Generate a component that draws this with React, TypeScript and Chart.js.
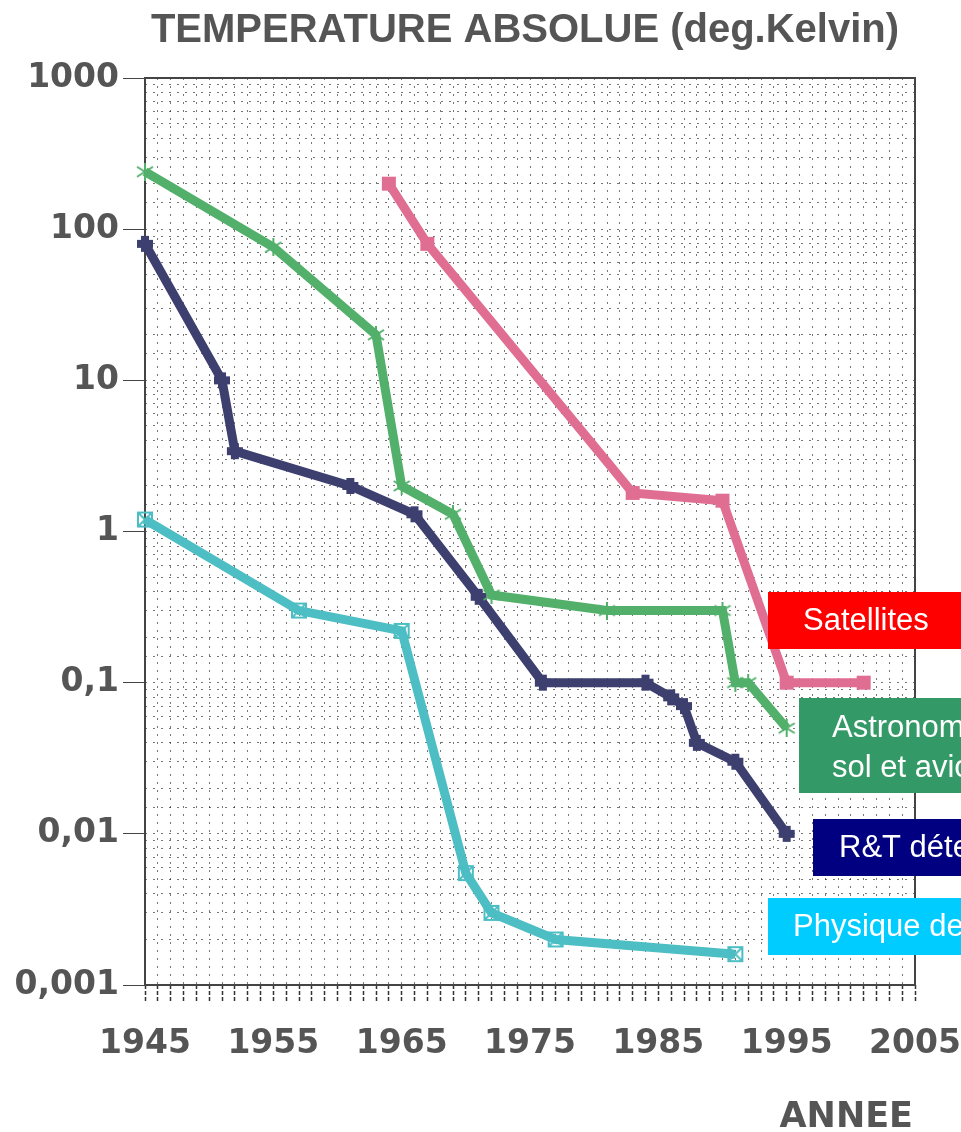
import React, { useEffect, useRef } from 'react';
import { Chart, registerables } from 'chart.js';
Chart.register(...registerables);

// ---- data ----
const xTickYears = [1945, 1955, 1965, 1975, 1985, 1995, 2005];
const yTickLabels = ['1000', '100', '10', '1', '0,1', '0,01', '0,001'];

const satYears = [1964, 1967, 1983, 1990, 1995, 2001];
const satValues = [200, 80, 1.8, 1.6, 0.1, 0.1];

const astroYears = [1945, 1955, 1963, 1965, 1969, 1972, 1981, 1990, 1991, 1992, 1995];
const astroValues = [240, 76, 20, 2, 1.3, 0.38, 0.3, 0.3, 0.1, 0.1, 0.05];

const rtYears = [1945, 1951, 1952, 1961, 1966, 1971, 1976, 1984, 1986, 1987, 1988, 1991, 1995];
const rtValues = [80, 10, 3.4, 2, 1.3, 0.37, 0.1, 0.1, 0.08, 0.07, 0.04, 0.03, 0.01];

const physYears = [1945, 1957, 1965, 1970, 1972, 1977, 1991];
const physValues = [1.2, 0.3, 0.22, 0.0055, 0.003, 0.002, 0.0016];

const legendItems = [
  { lines: ['Satellites'], color: '#ff0000' },
  { lines: ['Astronomie', 'sol et avion'], color: '#339966' },
  { lines: ['R&T détecteurs'], color: '#000080' },
  { lines: ['Physique des particules'], color: '#00ccff' },
];

const C_SAT = '#e06e92';
const C_ASTRO = '#52b06b';
const C_RT = '#3d3f6f';
const C_PHYS = '#4cbec4';

function marker(kind: string, color: string) {
  const c = document.createElement('canvas');
  c.width = 18; c.height = 18;
  const g = c.getContext('2d')!;
  g.strokeStyle = color; g.fillStyle = color;
  if (kind === 'boxx') {
    g.lineWidth = 2;
    g.strokeRect(2, 2, 14, 14);
    g.beginPath(); g.moveTo(2, 2); g.lineTo(16, 16); g.moveTo(16, 2); g.lineTo(2, 16); g.stroke();
  } else if (kind === 'plus') {
    g.fillRect(1, 5, 16, 8);
    g.fillRect(5, 1, 8, 16);
  } else if (kind === 'sq') {
    g.fillRect(2, 2, 14, 14);
  } else if (kind === 'star') {
    g.lineWidth = 2;
    g.beginPath();
    g.moveTo(9, 0); g.lineTo(9, 18);
    g.moveTo(1, 4); g.lineTo(17, 14);
    g.moveTo(17, 4); g.lineTo(1, 14);
    g.stroke();
  }
  return c;
}

const isMajor = (v: number) => {
  const l = Math.log10(v);
  return Math.abs(l - Math.round(l)) < 1e-6;
};

export default function App() {
  const ref = useRef<HTMLCanvasElement>(null);
  useEffect(() => {
    const toPts = (xs: number[], ys: number[]) => xs.map((x, i) => ({ x, y: ys[i] }));
    const mk = (label: string, xs: number[], ys: number[], color: string, kind: string) => ({
      label,
      data: toPts(xs, ys),
      borderColor: color,
      backgroundColor: color,
      borderWidth: 9,
      tension: 0,
      pointStyle: marker(kind, color) as any,
      pointRadius: 9,
      clip: false as any,
    });

    const deco = {
      id: 'deco',
      beforeDatasetsDraw(chart: any) {
        const { ctx, chartArea: a } = chart;
        ctx.save();
        ctx.strokeStyle = '#444';
        ctx.lineWidth = 2;
        ctx.strokeRect(a.left, a.top, a.right - a.left, a.bottom - a.top);
        ctx.restore();
      },
      afterDraw(chart: any) {
        const { ctx } = chart;
        ctx.save();
        ctx.fillStyle = '#555';
        ctx.font = 'bold 40px "Liberation Sans", Arial, sans-serif';
        ctx.textAlign = 'center';
        ctx.textBaseline = 'alphabetic';
        ctx.fillText('TEMPERATURE ABSOLUE (deg.Kelvin)', 525, 42);
        ctx.font = 'bold 35px "DejaVu Sans", sans-serif';
        ctx.textAlign = 'right';
        ctx.fillText('ANNEE', 913, 1127);

        const boxes = [
          { x: 768, y: 592, w: 220, h: 57, tx: 803, ty: [621] },
          { x: 799, y: 698, w: 220, h: 95, tx: 832, ty: [728, 768] },
          { x: 813, y: 819, w: 220, h: 57, tx: 839, ty: [848] },
          { x: 768, y: 898, w: 220, h: 57, tx: 793, ty: [927] },
        ];
        ctx.font = '31px "Liberation Sans", Arial, sans-serif';
        ctx.textAlign = 'left';
        ctx.textBaseline = 'middle';
        legendItems.forEach((it, i) => {
          const b = boxes[i];
          ctx.fillStyle = it.color;
          ctx.fillRect(b.x, b.y, b.w, b.h);
          ctx.fillStyle = '#ffffff';
          it.lines.forEach((t, j) => ctx.fillText(t, b.tx, b.ty[j]));
        });
        ctx.restore();
      },
    };

    const chart = new Chart(ref.current!, {
      type: 'line',
      data: {
        datasets: [
          mk('Satellites', satYears, satValues, C_SAT, 'sq'),
          mk('Astronomie sol et avion', astroYears, astroValues, C_ASTRO, 'star'),
          mk('R&T détecteurs', rtYears, rtValues, C_RT, 'plus'),
          mk('Physique', physYears, physValues, C_PHYS, 'boxx'),
        ],
      },
      options: {
        animation: false,
        responsive: false,
        layout: { padding: { left: 0, top: 78, right: 46, bottom: 0 } },
        plugins: { legend: { display: false }, tooltip: { enabled: false }, title: { display: false } },
        scales: {
          x: {
            type: 'linear',
            min: 1945,
            max: 2005,
            afterFit(s: any) { s.height = 147; s.paddingLeft = 0; s.paddingRight = 0; },
            afterBuildTicks(s: any) {
              const t = [];
              for (let y = 1945; y <= 2005; y++) t.push({ value: y });
              s.ticks = t;
            },
            ticks: {
              autoSkip: false,
              maxRotation: 0,
              padding: 22,
              color: '#555',
              font: { family: '"DejaVu Sans", sans-serif', size: 33, weight: 'bold' },
              callback: (v: any) => (xTickYears.includes(Number(v)) ? String(v) : ''),
            },
            grid: {
              color: 'rgba(30,30,30,0.6)',
              lineWidth: 1,
              tickLength: 18,
              tickColor: '#333',
              tickWidth: 1.5,
              tickBorderDash: [4, 2],
            },
            border: { display: false, dash: [2, 6] },
          },
          y: {
            type: 'logarithmic',
            min: 0.001,
            max: 1000,
            afterFit(s: any) { s.width = 145; s.paddingTop = 0; s.paddingBottom = 0; },
            ticks: {
              autoSkip: false,
              padding: 4,
              color: '#555',
              font: { family: '"DejaVu Sans", sans-serif', size: 33, weight: 'bold' },
              callback: (v: any) => {
                const n = Number(v);
                if (!isMajor(n)) return '';
                const idx = 3 - Math.round(Math.log10(n));
                return yTickLabels[idx];
              },
            },
            grid: {
              color: 'rgba(30,30,30,0.6)',
              lineWidth: 1,
              tickLength: 22,
              tickColor: (c: any) => (c.tick && isMajor(c.tick.value) ? '#444' : 'rgba(0,0,0,0)'),
            },
            border: { display: false, dash: [2, 6] },
          },
        },
      },
      plugins: [deco],
    } as any);
    return () => chart.destroy();
  }, []);

  return (
    <div style={{ position: 'absolute', left: 0, top: 0, width: 961, height: 1132, overflow: 'hidden', background: '#fff' }}>
      <canvas ref={ref} width={961} height={1132} style={{ width: 961, height: 1132, display: 'block' }} />
    </div>
  );
}
